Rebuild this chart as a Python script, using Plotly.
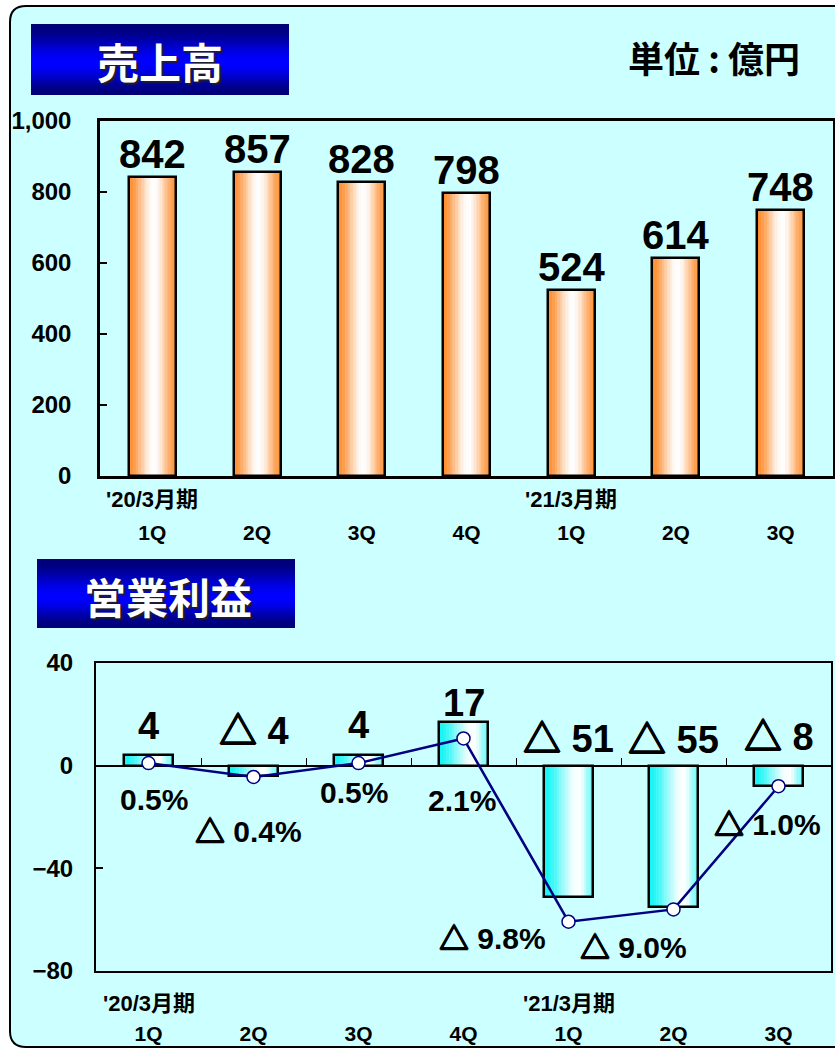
import plotly.graph_objects as go

# ---------------- data ----------------
quarters = ["1Q", "2Q", "3Q", "4Q", "1Q", "2Q", "3Q"]
period_labels = ["'20/3月期", "'21/3月期"]
period_index = [0, 4]
sales = [842, 857, 828, 798, 524, 614, 748]
op_income = [4, -4, 4, 17, -51, -55, -8]
op_margin = [0.5, -0.4, 0.5, 2.1, -9.8, -9.0, -1.0]
sales_ticks = [0, 200, 400, 600, 800, 1000]
income_ticks = [-80, -40, 0, 40]

# ---------------- geometry helpers ----------------
W, H = 835, 1050


def px(x):
    return x / W


def py(y):
    return 1 - y / H


def lerp(c1, c2, f):
    return "rgb(%d,%d,%d)" % tuple(round(a + (b - a) * f) for a, b in zip(c1, c2))


def piece(t, pts):
    for (t0, f0), (t1, f1) in zip(pts[:-1], pts[1:]):
        if t0 <= t <= t1:
            u = (t - t0) / (t1 - t0)
            u = u * u * (3 - 2 * u)
            return f0 + (f1 - f0) * u
    return pts[-1][1]


xs = list(range(len(quarters)))
NUM_FONT = "Liberation Sans, Arial, Noto Sans CJK JP"
JP_FONT = "Noto Sans CJK JP"
TRI = ("<span style=\"font-family:'Noto Sans CJK JP';font-weight:bold;"
       "text-shadow:0.8px 0 0 #000,-0.8px 0 0 #000,0 0.8px 0 #000,0 -0.8px 0 #000\">△</span>")

fig = go.Figure()

# ---------------- gradient bars (slices) ----------------
def gradient_bars(values, xaxis, yaxis, width, edge, pts, n=18):
    for i in range(n):
        t = (i + 0.5) / n
        col = lerp(edge, (255, 255, 255), piece(t, pts))
        fig.add_trace(go.Bar(
            x=xs, y=values, width=width / n, offset=-width / 2 + i * width / n,
            marker=dict(color=col, line=dict(color=col, width=0.6)),
            xaxis=xaxis, yaxis=yaxis, hoverinfo="skip", showlegend=False))
    fig.add_trace(go.Bar(
        x=xs, y=values, width=width, offset=-width / 2,
        marker=dict(color="rgba(0,0,0,0)", line=dict(color="black", width=2.5)),
        xaxis=xaxis, yaxis=yaxis, hoverinfo="skip", showlegend=False))


gradient_bars(sales, "x", "y", 0.45, (255, 140, 45), [(0, 0), (0.55, 1), (1, 0.1)])
gradient_bars(op_income, "x2", "y2", 0.46, (20, 245, 245), [(0, 0), (0.72, 1), (1, 0.45)])

# margin line
fig.add_trace(go.Scatter(
    x=xs, y=op_margin, xaxis="x3", yaxis="y3", mode="lines+markers",
    line=dict(color="#000080", width=2.5),
    marker=dict(size=13, color="white", line=dict(color="#000080", width=1.5)),
    hoverinfo="skip", showlegend=False))

# ---------------- annotations ----------------
ann = []
for x, v in zip(xs, sales):
    ann.append(dict(x=x, y=v, xref="x", yref="y", text=str(v), showarrow=False,
                    xanchor="center", yanchor="bottom", yshift=-1,
                    font=dict(family=NUM_FONT, size=40, color="black", weight="bold")))


def tri(v, suffix=""):
    if v < 0:
        return TRI + " " + (f"{abs(v):.1f}" if suffix else str(abs(v))) + suffix
    return (f"{v:.1f}" if suffix else str(v)) + suffix


inc_yshift = [6, 9, 7, -4, 1, 0, 3]
for x, v, ys in zip(xs, op_income, inc_yshift):
    ann.append(dict(x=x, y=max(v, 0), xref="x2", yref="y2", text=tri(v), showarrow=False,
                    xanchor="center", yanchor="bottom", yshift=ys,
                    font=dict(family=NUM_FONT, size=38, color="black", weight="bold")))

pct_dx = [5, -5, -5, -2, -76, -40, -11]
pct_dy = [-36, -52, -29, -62, -14, -36, -36]
for x, v, dx, dy in zip(xs, op_margin, pct_dx, pct_dy):
    ann.append(dict(x=x, y=v, xref="x3", yref="y3", text=tri(v, "%"), showarrow=False,
                    xanchor="center", yanchor="middle", xshift=dx, yshift=dy,
                    font=dict(family=NUM_FONT, size=30, color="black", weight="bold")))

# period labels under both charts
for xa, yy in (("x", 499), ("x2", 1003)):
    for lab, idx in zip(period_labels, period_index):
        ann.append(dict(x=idx, y=py(yy), xref=xa, yref="paper", text=lab, showarrow=False,
                        xanchor="center", yanchor="middle",
                        font=dict(family=NUM_FONT + ", " + JP_FONT, size=22, color="black", weight="bold")))

# header titles
ann.append(dict(x=px(160), y=py(60), xref="paper", yref="paper", text="売上高", showarrow=False,
                xanchor="center", yanchor="middle",
                font=dict(family=JP_FONT, size=42, color="white", weight="bold",
                          shadow="2px 2px 2px #202020")))
ann.append(dict(x=px(168), y=py(595), xref="paper", yref="paper", text="営業利益", showarrow=False,
                xanchor="center", yanchor="middle",
                font=dict(family=JP_FONT, size=42, color="white", weight="bold",
                          shadow="2px 2px 2px #202020")))
ann.append(dict(x=px(714), y=py(57), xref="paper", yref="paper", text="単位 : 億円", showarrow=False,
                xanchor="center", yanchor="middle",
                font=dict(family=JP_FONT, size=36, color="black", weight="bold")))

# ---------------- shapes ----------------
shapes = []
# rounded cyan panel
x0, y0, x1, y1, r = px(10), py(6), px(860), py(1047), 16
rx, ry = r / W, r / H
path = (f"M {x0+rx},{y0} L {x1-rx},{y0} Q {x1},{y0} {x1},{y0-ry} "
        f"L {x1},{y1+ry} Q {x1},{y1} {x1-rx},{y1} L {x0+rx},{y1} "
        f"Q {x0},{y1} {x0},{y1+ry} L {x0},{y0-ry} Q {x0},{y0} {x0+rx},{y0} Z")
shapes.append(dict(type="path", path=path, xref="paper", yref="paper", layer="below",
                   fillcolor="#CCFFFF", line=dict(color="black", width=2)))


def header(bx0, by0, bx1, by1, n=24):
    step = (by1 - by0) / n
    for i in range(n):
        t = (i + 0.5) / n
        f = piece(t, [(0, 0), (0.55, 1), (1, 0)])
        col = lerp((0, 0, 120), (0, 0, 255), f)
        ya = by0 + step * i
        yb = min(by1, by0 + step * (i + 1) + 1.5)
        shapes.append(dict(type="rect", xref="paper", yref="paper", layer="below",
                           x0=px(bx0), x1=px(bx1), y0=py(ya), y1=py(yb),
                           fillcolor=col, line=dict(width=0)))


header(31, 24, 289, 95)
header(37, 559, 295, 628)

# ---------------- layout ----------------
axis_font = dict(family=NUM_FONT, size=24, color="black", weight="bold")
common_y = dict(showgrid=False, ticks="inside", ticklen=7, tickwidth=1.5, tickcolor="black",
                showline=True, linecolor="black", mirror=True, tickfont=axis_font,
                automargin=False)
common_x = dict(showgrid=False, ticks="", showline=True, linecolor="black", mirror=True,
                tickmode="array", tickvals=xs, ticktext=quarters, range=[-0.5, 6.5],
                tickfont=dict(family=NUM_FONT, size=21, color="black", weight="bold"),
                zeroline=False, automargin=False)

fig.update_layout(
    template="none",
    width=W, height=H, autosize=False,
    margin=dict(l=0, r=0, t=0, b=0, pad=0),
    paper_bgcolor="white", plot_bgcolor="white",
    barmode="overlay", bargap=0,
    showlegend=False,
    xaxis=dict(**common_x, domain=[px(100), px(833)], anchor="y", linewidth=2.5,
               ticklabelstandoff=36),
    yaxis=dict(**common_y, domain=[py(476), py(121)], anchor="x", range=[0, 1000],
               tickvals=sales_ticks, tickformat=",", linewidth=2.5, ticklabelstandoff=21,
               zeroline=False),
    xaxis2=dict(**common_x, domain=[px(96), px(831)], anchor="y2", linewidth=2,
                ticklabelstandoff=43),
    yaxis2=dict(**common_y, domain=[py(971), py(663)], anchor="x2", range=[-80, 40],
                tickvals=income_ticks, linewidth=2, ticklabelstandoff=16,
                zeroline=True, zerolinecolor="black", zerolinewidth=1.5),
    xaxis3=dict(overlaying="x2", anchor="free", side="top",
                position=py(971) + (py(663) - py(971)) * (80 / 120),
                range=[-0.5, 6.5], tickmode="array", tickvals=[i + 0.5 for i in xs[:-1]],
                ticks="outside", ticklen=8, tickwidth=1.2, tickcolor="black",
                showticklabels=False, showline=False, showgrid=False, zeroline=False,
                automargin=False),
    yaxis3=dict(overlaying="y2", anchor="x3", range=[-13, 7], visible=False,
                automargin=False),
    annotations=ann,
    shapes=shapes,
)

fig.write_html("out.html", config={"displayModeBar": False},
               post_script="document.body.style.margin='0px';")
